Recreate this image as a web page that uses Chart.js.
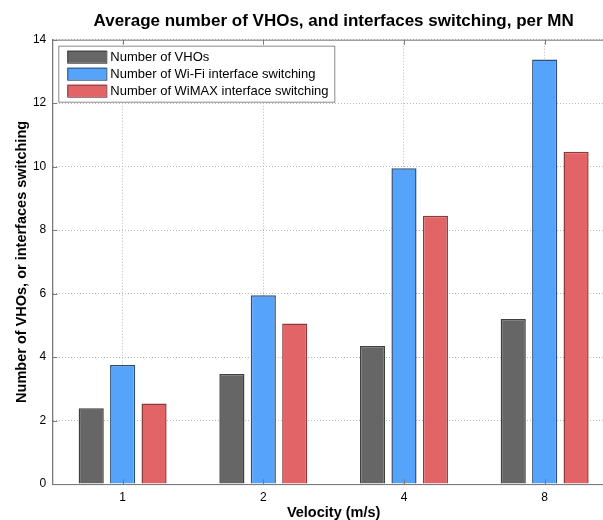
<!DOCTYPE html>
<html>
<head>
<meta charset="utf-8">
<script src="https://cdn.jsdelivr.net/npm/chart.js@4.4.1/dist/chart.umd.min.js"></script>
<style>
    html, body { margin: 0; padding: 0; background: #fff; overflow: hidden; }
    #wrap { width: 615px; height: 520px; }
</style>
</head>
<body>
<div id="wrap"><canvas id="vhoChart"></canvas></div>
<script>
const velocities = ['1', '2', '4', '8'];
const vhoCounts = [2.39, 3.47, 4.35, 5.2];
const wifiSwitching = [3.75, 5.95, 9.95, 13.38];
const wimaxSwitching = [2.54, 5.06, 8.45, 10.47];
const yTicks = [0, 2, 4, 6, 8, 10, 12, 14];

const FONT = "'Liberation Sans', Arial, sans-serif";

// frame, inward tick marks and the legend box inside the plot
const boxLegend = {
    id: 'boxLegend',
    afterDraw(chart) {
        const { ctx, chartArea, scales } = chart;
        const { left, right, top, bottom } = chartArea;
        ctx.save();
        ctx.strokeStyle = '#7a7a7a';
        ctx.lineWidth = 1;
        ctx.strokeRect(left + 0.5, top + 0.5, right - left, bottom - top);

        ctx.beginPath();
        scales.y.ticks.forEach((t) => {
            const y = Math.round(scales.y.getPixelForValue(t.value)) + 0.5;
            ctx.moveTo(left, y);
            ctx.lineTo(left + 5, y);
        });
        velocities.forEach((_, i) => {
            const x = Math.round(scales.x.getPixelForValue(i)) + 0.5;
            ctx.moveTo(x, bottom);
            ctx.lineTo(x, bottom - 5);
            ctx.moveTo(x, top);
            ctx.lineTo(x, top + 5);
        });
        ctx.stroke();

        const x0 = left + 6;
        const y0 = top + 6;
        ctx.fillStyle = '#fff';
        ctx.fillRect(x0, y0, 276, 56);
        ctx.strokeStyle = '#8a8a8a';
        ctx.strokeRect(x0 + 0.5, y0 + 0.5, 276, 56);

        ctx.font = `13px ${FONT}`;
        ctx.textBaseline = 'middle';
        chart.data.datasets.forEach((ds, i) => {
            const y = y0 + 5 + i * 17;
            ctx.fillStyle = ds.backgroundColor;
            ctx.fillRect(x0 + 9, y, 39, 12);
            ctx.strokeStyle = ds.borderColor;
            ctx.strokeRect(x0 + 9.5, y + 0.5, 39, 12);
            ctx.fillStyle = '#000';
            ctx.fillText(ds.label, x0 + 52, y + 7);
        });
        ctx.restore();
    },
};

new Chart(document.getElementById('vhoChart'), {
    type: 'bar',
    data: {
        labels: velocities,
        datasets: [
            {
                label: 'Number of VHOs',
                data: vhoCounts,
                backgroundColor: '#666666',
                borderColor: '#3f3f3f',
                borderWidth: 1.5,
            },
            {
                label: 'Number of Wi-Fi interface switching',
                data: wifiSwitching,
                backgroundColor: '#56a3fb',
                borderColor: '#2f4f78',
                borderWidth: 1.5,
            },
            {
                label: 'Number of WiMAX interface switching',
                data: wimaxSwitching,
                backgroundColor: '#e26467',
                borderColor: '#8a3a3c',
                borderWidth: 1.5,
            },
        ],
    },
    options: {
        responsive: true,
        maintainAspectRatio: false,
        animation: false,
        datasets: {
            bar: {
                categoryPercentage: 0.67,
                barPercentage: 0.8,
            },
        },
        layout: {
            padding: { top: 0, right: 0, bottom: 0, left: 14 },
        },
        scales: {
            x: {
                grid: {
                    offset: false,
                    color: '#b8b8b8',
                    drawTicks: false,
                },
                border: { display: true, color: '#7a7a7a', dash: [1, 2] },
                ticks: {
                    color: '#000',
                    padding: 6,
                    font: { family: FONT, size: 12 },
                },
                title: {
                    display: true,
                    text: 'Velocity (m/s)',
                    color: '#000',
                    padding: { top: -5, bottom: 0 },
                    font: { family: FONT, size: 14.5, weight: 'bold', lineHeight: 1 },
                },
            },
            y: {
                min: 0,
                max: 14,
                afterBuildTicks: (axis) => {
                    axis.ticks = yTicks.map((v) => ({ value: v }));
                },
                grid: {
                    color: '#b8b8b8',
                    drawTicks: false,
                },
                border: { color: '#7a7a7a', dash: [1, 2] },
                ticks: {
                    color: '#000',
                    padding: 6,
                    font: { family: FONT, size: 12 },
                },
                title: {
                    display: true,
                    text: 'Number of VHOs, or interfaces switching',
                    color: '#000',
                    padding: { top: 0, bottom: -3 },
                    font: { family: FONT, size: 14.5, weight: 'bold', lineHeight: 1.1 },
                },
            },
        },
        plugins: {
            legend: { display: false },
            tooltip: { enabled: false },
            title: {
                display: true,
                fullSize: false,
                text: 'Average number of VHOs, and interfaces switching, per MN',
                color: '#000',
                padding: { top: 12, bottom: 9 },
                font: { family: FONT, size: 17, weight: 'bold', lineHeight: 1.1 },
            },
        },
    },
    plugins: [boxLegend],
});
</script>
</body>
</html>
